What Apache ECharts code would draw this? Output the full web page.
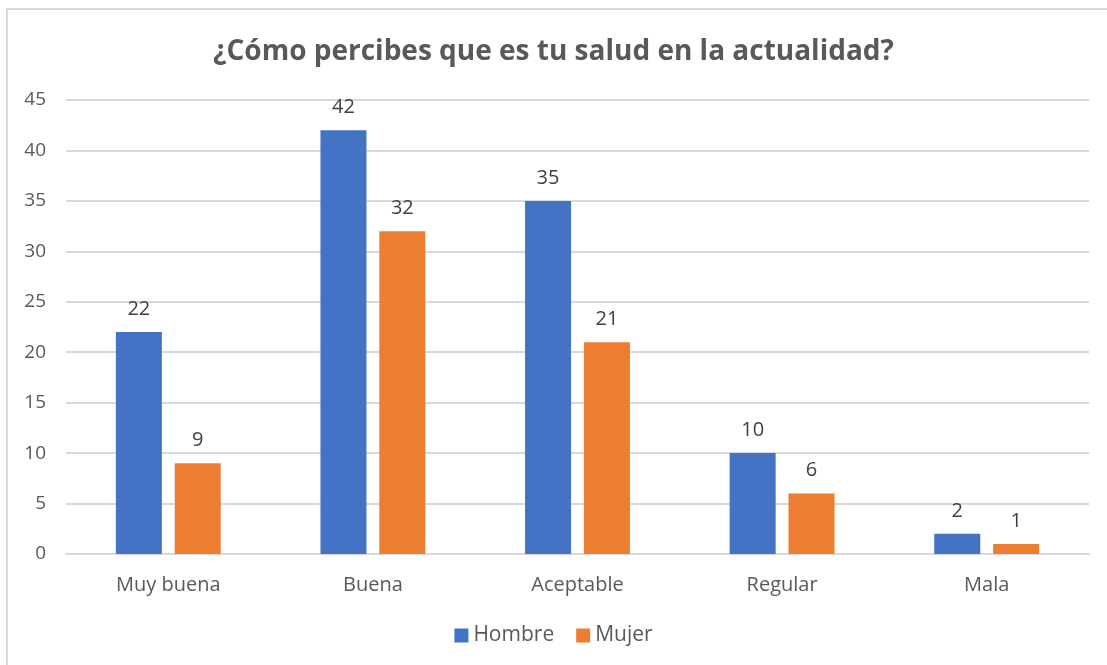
<!DOCTYPE html>
<html>
<head>
<meta charset="utf-8">
<script src="https://cdn.jsdelivr.net/npm/echarts@6/dist/echarts.min.js"></script>
<style>
  html, body { margin: 0; padding: 0; background: #fff; }
  #chart { width: 1107px; height: 665px; }
</style>
</head>
<body>
<div id="chart"></div>
<script>
var categories = ['Muy buena', 'Buena', 'Aceptable', 'Regular', 'Mala'];
var hombre = [22, 42, 35, 10, 2];
var mujer = [9, 32, 21, 6, 1];
var yTicks = { min: 0, max: 45, interval: 5 };

var fontFam = '"Open Sans", "Noto Sans", sans-serif';

var chart = echarts.init(document.getElementById('chart'));
chart.setOption({
    animation: false,
    textStyle: { fontFamily: fontFam },
    graphic: [{
        type: 'rect',
        shape: { x: 7, y: 9, width: 1110, height: 670 },
        style: { fill: 'none', stroke: '#d9d9d9', lineWidth: 2 }
    }],
    title: {
        text: '¿Cómo percibes que es tu salud en la actualidad?',
        left: 'center',
        top: 33,
        textStyle: { fontSize: 28, fontWeight: 'bold', color: '#595959', fontFamily: fontFam }
    },
    legend: {
        data: ['Hombre', 'Mujer'],
        bottom: 14,
        left: 'center',
        itemWidth: 14,
        itemHeight: 14,
        itemGap: 22,
        itemTextGap: 8,
        icon: 'rect',
        textStyle: { fontSize: 21, color: '#595959' }
    },
    grid: { left: 66, right: 18, top: 100, bottom: 111, containLabel: false },
    xAxis: {
        type: 'category',
        data: categories,
        axisLine: { lineStyle: { color: '#d9d9d9', width: 2 } },
        axisTick: { show: false },
        axisLabel: { fontSize: 20, color: '#595959', margin: 21 }
    },
    yAxis: {
        type: 'value',
        min: yTicks.min,
        max: yTicks.max,
        interval: yTicks.interval,
        axisLine: { show: false },
        axisTick: { show: false },
        splitLine: { lineStyle: { color: '#d9d9d9', width: 2 } },
        axisLabel: { fontSize: 19, color: '#595959', margin: 20 }
    },
    series: [{
        name: 'Hombre',
        type: 'bar',
        data: hombre,
        barWidth: 46,
        barGap: '28%',
        itemStyle: { color: '#4472c4' },
        label: { show: true, position: 'top', distance: 13, fontSize: 20, color: '#404040' }
    }, {
        name: 'Mujer',
        type: 'bar',
        data: mujer,
        barWidth: 46,
        itemStyle: { color: '#ed7d31' },
        label: { show: true, position: 'top', distance: 13, fontSize: 20, color: '#404040' }
    }]
});
</script>
</body>
</html>
